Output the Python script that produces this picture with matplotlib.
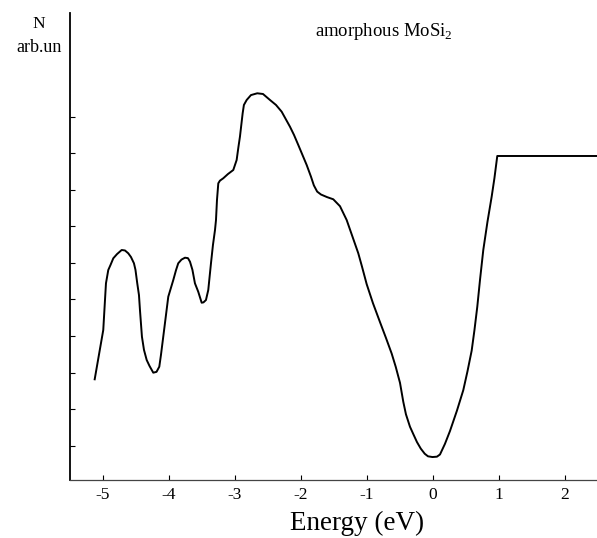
import numpy as np
import matplotlib
matplotlib.use("Agg")
import matplotlib.pyplot as plt

# density of states of amorphous MoSi2
energy = [-5.121, -4.991, -4.965, -4.950, -4.915, -4.882, -4.839, -4.783, -4.712, -4.662,
          -4.612, -4.571, -4.526, -4.503, -4.476, -4.450, -4.435, -4.405, -4.374, -4.333,
          -4.290, -4.233, -4.184, -4.142, -4.117, -4.082, -4.041, -4.006, -3.930, -3.889,
          -3.855, -3.806, -3.753, -3.708, -3.677, -3.640, -3.602, -3.552, -3.500, -3.473,
          -3.435, -3.400, -3.359, -3.329, -3.298, -3.283, -3.268, -3.248, -3.223, -3.173,
          -3.102, -3.021, -2.970, -2.943, -2.920, -2.879, -2.860, -2.818, -2.753, -2.658,
          -2.571, -2.465, -2.374, -2.288, -2.162, -2.101, -2.036, -1.909, -1.844, -1.800,
          -1.750, -1.692, -1.601, -1.506, -1.404, -1.303, -1.223, -1.127, -1.071, -1.000,
          -0.905, -0.798, -0.708, -0.621, -0.560, -0.495, -0.445, -0.405, -0.344, -0.294,
          -0.238, -0.180, -0.120, -0.071, -0.003, 0.065, 0.111, 0.186, 0.262, 0.368,
          0.464, 0.527, 0.591, 0.633, 0.676, 0.717, 0.767, 0.830, 0.894, 0.936,
          0.979, 2.5]
dos = [2.816, 4.165, 4.98, 5.442, 5.806, 5.94, 6.126, 6.24, 6.353, 6.34,
       6.262, 6.16, 5.989, 5.81, 5.442, 5.12, 4.712, 3.981, 3.62, 3.344,
       3.18, 2.997, 3.02, 3.161, 3.48, 3.981, 4.57, 5.075, 5.532, 5.80,
       5.989, 6.09, 6.142, 6.13, 6.033, 5.81, 5.442, 5.212, 4.911, 4.92,
       4.985, 5.259, 5.989, 6.49, 6.900, 7.173, 7.72, 8.177, 8.25, 8.314,
       8.43, 8.541, 8.814, 9.17, 9.452, 10.092, 10.32, 10.456, 10.59, 10.639,
       10.62, 10.456, 10.32, 10.136, 9.725, 9.50, 9.225, 8.678, 8.36, 8.12,
       7.95, 7.87, 7.80, 7.74, 7.55, 7.173, 6.76, 6.263, 5.90, 5.42,
       4.90, 4.38, 3.95, 3.52, 3.16, 2.72, 2.20, 1.86, 1.52, 1.32,
       1.10, 0.92, 0.78, 0.71, 0.69, 0.70, 0.76, 1.05, 1.40, 1.96,
       2.52, 3.03, 3.60, 4.16, 4.80, 5.53, 6.353, 7.12, 7.811, 8.32,
       8.924, 8.924]
xticks = [-5, -4, -3, -2, -1, 0, 1, 2]
yticks = [1, 2, 3, 4, 5, 6, 7, 8, 9, 10]

plt.rcParams['font.family'] = ['Liberation Serif', 'DejaVu Serif']
plt.rcParams['mathtext.fontset'] = 'custom'
plt.rcParams['mathtext.rm'] = 'Liberation Serif'

fig = plt.figure(figsize=(5.97, 5.38), dpi=100)
ax = fig.add_axes([70/597, 58/538, 527/597, 467/538])

ax.plot(energy, dos, color='black', lw=1.4, solid_joinstyle='round')

ax.set_xlim(-5.495, 2.49)
ax.set_ylim(0.062, 12.835)
ax.set_xticks(xticks)
ax.set_xticklabels([str(t) for t in xticks])
ax.set_yticks(yticks)
ax.set_yticklabels([])
ax.tick_params(axis='both', direction='in', length=3.5, width=0.8, labelsize=12.5)
ax.tick_params(axis='x', pad=5)

for s in ['top', 'right']:
    ax.spines[s].set_visible(False)
ax.spines['left'].set_linewidth(1.3)
ax.spines['bottom'].set_linewidth(0.9)
ax.spines['bottom'].set_color('#444444')

fig.text(357/597, 8/538, 'Energy (eV)', ha='center', va='baseline', fontsize=19.5)
fig.text(39/597, 1 - 28.3/538, 'N', ha='center', va='baseline', fontsize=12.5)
fig.text(39.5/597, 1 - 51.7/538, 'arb.un', ha='center', va='baseline', fontsize=13)
fig.text(315/597, 1 - 36/538, r'amorphous MoSi$_\mathrm{2}$', ha='left', va='baseline',
         fontsize=13.5)

fig.savefig('out.png', dpi=100)
